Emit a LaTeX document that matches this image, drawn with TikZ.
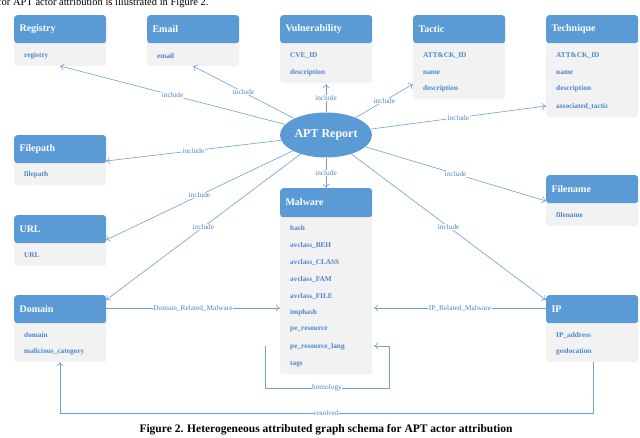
\documentclass[tikz,border=0pt]{standalone}
\usepackage{fontspec}
\setmainfont{Liberation Serif}
\usetikzlibrary{arrows.meta,shapes.geometric}
\definecolor{hd}{HTML}{5B9BD5}
\definecolor{bd}{HTML}{F2F2F2}
\definecolor{ln}{HTML}{6FA0D8}
\definecolor{tx}{HTML}{4A86C8}
\tikzset{
 hdr/.style={fill=hd,rounded corners=3pt,minimum width=92pt,anchor=north west,inner sep=0pt},
 bdy/.style={fill=bd,rounded corners=3pt,minimum width=92pt,anchor=north west,inner sep=0pt},
 ttl/.style={font=\bfseries\fontsize{10}{11}\selectfont,text=white,anchor=west},
 att/.style={font=\bfseries\fontsize{7.3}{8}\selectfont,text=tx,anchor=west,inner sep=0pt},
 lab/.style={font=\fontsize{7.3}{8}\selectfont,text=tx,fill=white,inner sep=0.5pt},
 con/.style={draw=ln,line width=0.6pt,-{To[length=4pt,width=7pt]}},
}
\newcommand\ent[6]{% name, x, ytop, yhb, ybot, title
 \node[bdy,minimum height={#5-#4+4}] (#1b) at (#2,#4-4) {};
 \node[hdr,minimum height={#4-#3}] (#1) at (#2,#3) {};
 \node[ttl] (#1t) at (#2+2,{(#3+#4)/2}) {#6};
}
\begin{document}
\begin{tikzpicture}[x=1pt,y=-1pt]
\useasboundingbox (0,0) rectangle (640,438);
\node[anchor=north west,inner sep=0pt,font=\fontsize{10.5}{11}\selectfont] (top) at (-2,-2) {for APT actor attribution is illustrated in Figure 2.};
\ent{reg}{14}{15}{43}{66}{Registry}
\ent{eml}{147}{15}{43}{66}{Email}
\ent{vul}{280}{15}{43}{83}{Vulnerability}
\ent{tac}{413}{15}{43}{99}{Tactic}
\ent{tec}{546}{15}{43}{117}{Technique}
\ent{fp}{14}{135}{163}{185}{Filepath}
\ent{fn}{546}{175}{203}{226}{Filename}
\ent{url}{14}{215}{243}{266}{URL}
\ent{dom}{14}{295}{323}{362}{Domain}
\ent{mal}{280}{188}{217}{374}{Malware}
\ent{ip}{546}{295}{323}{362}{IP}
\node[att] (a1) at (24,56) {registry};
\node[att] (a2) at (157,56) {email};
\node[att] (a3) at (290,56) {CVE\_ID};
\node[att] (a4) at (290,72.5) {description};
\node[att] (a5) at (423,56) {ATT\&CK\_ID};
\node[att] (a6) at (423,72.5) {name};
\node[att] (a7) at (423,89) {description};
\node[att] (a8) at (556,56) {ATT\&CK\_ID};
\node[att] (a9) at (556,72.5) {name};
\node[att] (a10) at (556,89) {description};
\node[att] (a11) at (556,106) {associated\_tactic};
\node[att] (a12) at (24,175) {filepath};
\node[att] (a13) at (556,215) {filename};
\node[att] (a14) at (24,255) {URL};
\node[att] (a15) at (24,335) {domain};
\node[att] (a16) at (24,352) {malicious\_category};
\node[att] (a17) at (556,335) {IP\_address};
\node[att] (a18) at (556,352) {geolocation};
\node[att] (m1) at (290,228) {hash};
\node[att] (m2) at (290,245) {avclass\_BEH};
\node[att] (m3) at (290,262) {avclass\_CLASS};
\node[att] (m4) at (290,279) {avclass\_FAM};
\node[att] (m5) at (290,296) {avclass\_FILE};
\node[att] (m6) at (290,313) {imphash};
\node[att] (m7) at (290,330) {pe\_resource};
\node[att] (m8) at (290,347) {pe\_resource\_lang};
\node[att] (m9) at (290,364) {tags};
\node[ellipse,fill=hd,minimum width=92pt,minimum height=45pt,inner sep=0pt,font=\bfseries\fontsize{12}{13}\selectfont,text=white] (rep) at (326,135) {APT Report};
\coordinate (tReg) at (60,66);
\coordinate (tEml) at (193,66);
\coordinate (tVul) at (326,84);
\coordinate (tTac) at (413,84);
\coordinate (tTec) at (546,106);
\coordinate (tFp) at (106,161);
\coordinate (tFn) at (546,201);
\coordinate (tMal) at (326,188);
\coordinate (tUrl) at (106,240);
\coordinate (tDom) at (106,300);
\coordinate (tIp) at (546,300);
\foreach \t in {tReg,tEml,tVul,tTac,tTec,tFp,tFn,tMal,tUrl,tDom,tIp}
 \draw[con] (rep) -- node[lab]{include} (\t);
\coordinate (dR) at (106,308);
\coordinate (dM) at (280,308);
\coordinate (iR) at (546,308);
\coordinate (iM) at (374,308);
\draw[con] (dR) -- node[lab]{Domain\_Related\_Malware} (dM);
\draw[con] (iR) -- node[lab]{IP\_Related\_Malware} (iM);
\coordinate (h1) at (265,346);
\coordinate (h2) at (389,346);
\coordinate (h3) at (374,346);
\draw[con] (h1) |- node[lab,pos=0.75]{homology} (389,388) -- (h2) -- (h3);
\coordinate (r1) at (593,362);
\coordinate (r2) at (60,362);
\draw[con] (r1) |- node[lab,pos=0.75]{resolved} (60,413) -- (r2);
\node[font=\bfseries\fontsize{11.5}{12}\selectfont] (cap) at (326,430) {Figure 2. Heterogeneous attributed graph schema for APT actor attribution};
\end{tikzpicture}
\end{document}
